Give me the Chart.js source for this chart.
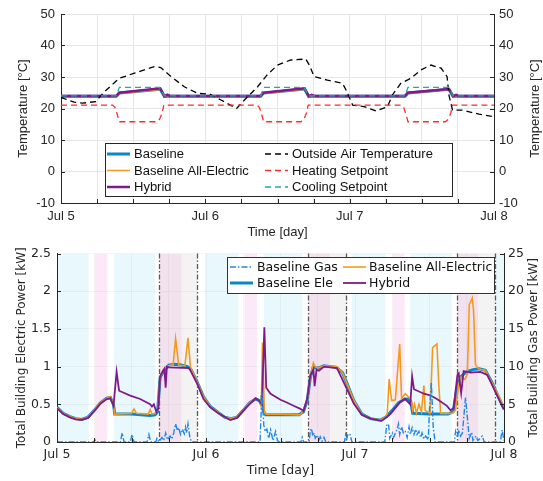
<!DOCTYPE html>
<html>
<head>
<meta charset="utf-8">
<script src="https://cdn.jsdelivr.net/npm/chart.js@4.4.0/dist/chart.umd.min.js"></script>
<style>
  html, body { margin: 0; padding: 0; background: #fff; }
  #wrap { position: relative; width: 543px; height: 481px; }
  canvas { position: absolute; left: 0; }
  #tempChart { top: 0; }
  #powerChart { top: 240px; }
</style>
</head>
<body>
<div id="wrap">
  <canvas id="tempChart" width="543" height="240"></canvas>
  <canvas id="powerChart" width="543" height="241"></canvas>
</div>
<script>
const dayLabels = ['Jul 5', 'Jul 6', 'Jul 7', 'Jul 8'];

// ---- top panel: temperatures, hours since Jul 5 00:00 ----
const zoneHours = [0, 9.2, 9.7, 16.5, 17.2, 17.7, 18.1, 33.2, 33.7, 40.5, 41.2, 41.7, 42.1, 57.2, 57.7, 64.5, 65.2, 65.7, 66.1, 72];
const zoneBaseline = [23.9, 23.9, 24.9, 26.1, 23.8, 23.9, 23.9, 23.9, 24.9, 26.2, 23.8, 23.9, 23.9, 23.9, 24.9, 26.1, 23.8, 23.9, 23.9, 23.9];
const zoneAllElectric = [23.9, 23.9, 24.8, 26.0, 23.7, 24.2, 23.9, 23.9, 24.8, 26.1, 23.7, 24.1, 23.9, 23.9, 24.8, 26.0, 23.7, 24.1, 23.9, 23.9];
const zoneHybrid = [24.0, 24.0, 25.0, 26.4, 23.9, 24.4, 24.0, 24.0, 25.0, 26.4, 23.9, 24.3, 24.0, 24.0, 25.0, 26.2, 23.9, 24.3, 24.0, 24.0];

const oatHours = [0, 2.2, 3.6, 5.8, 7.2, 9.7, 12.2, 15.5, 16.6, 18.0, 20.5, 22.7, 24.7, 26.6, 29.2, 30.5, 32.7, 34.2, 36.0, 38.2, 40.7, 41.3, 42.1, 44.3, 46.8, 47.4, 48.5, 50.4, 52.4, 54.3, 55.1, 56.5, 58.2, 59.8, 61.5, 63.2, 64.2, 64.5, 65.1, 66.7, 69.5, 72];
const oatTemp = [23.5, 22.0, 21.7, 22.2, 25.3, 29.6, 31.2, 33.3, 33.0, 30.6, 26.9, 24.8, 24.6, 22.7, 20.0, 22.7, 26.9, 30.5, 33.8, 35.4, 35.7, 33.8, 30.1, 29.0, 28.0, 25.9, 21.1, 20.6, 19.2, 20.6, 24.3, 28.0, 29.6, 32.2, 33.8, 32.8, 30.1, 24.3, 19.5, 19.5, 18.2, 17.4];

const heatHours = [0, 8.6, 9.0, 9.3, 9.7, 15.9, 16.4, 16.8, 17.1, 32.6, 33.0, 33.3, 33.7, 39.9, 40.4, 40.8, 41.1, 56.6, 57.0, 57.3, 57.7, 63.9, 64.4, 64.8, 65.1, 72];
const heatSetpoint = [21.1, 21.1, 20.3, 18.5, 15.8, 15.8, 16.6, 18.5, 21.1, 21.1, 20.3, 18.5, 15.8, 15.8, 16.6, 18.5, 21.1, 21.1, 20.3, 18.5, 15.8, 15.8, 16.6, 18.5, 21.1, 21.1];

const coolHours = [0, 9.2, 9.7, 16.4, 17.2, 33.2, 33.7, 40.4, 41.2, 57.2, 57.7, 64.4, 65.2, 72];
const coolSetpoint = [24, 24, 26.7, 26.7, 24, 24, 26.7, 26.7, 24, 24, 26.7, 26.7, 24, 24];

// ---- bottom panel: building power ----
const eleHours = [0, 1, 2, 3, 4, 5, 6, 7, 8, 8.6, 9.1, 9.3, 12, 15, 15.8, 16.2, 16.6, 17.2, 17.6, 18, 19, 20, 21, 21.6, 22.6, 23.6,
  24.7, 26, 27, 28, 29, 30, 31, 32, 32.6, 32.9, 33.0, 33.3, 33.6, 36, 39, 39.7, 40.3, 40.8, 41.3, 41.6, 42, 43, 45, 46, 46.7, 47.8,
  49.1, 50.5, 52.1, 53, 54, 55, 56, 56.6, 57, 57.3, 60, 63, 63.8, 64.4, 65, 65.5, 66, 67, 68, 69, 70, 71, 72];
const baselineEle = [0.46, 0.38, 0.34, 0.31, 0.30, 0.33, 0.42, 0.52, 0.58, 0.59, 0.50, 0.37, 0.37, 0.35, 0.36, 0.40, 0.85, 0.95, 0.98, 1.02, 1.03, 1.02, 1.0, 0.96, 0.79, 0.60,
  0.47, 0.39, 0.33, 0.31, 0.33, 0.42, 0.52, 0.57, 0.55, 0.50, 0.62, 0.40, 0.36, 0.36, 0.36, 0.40, 0.55, 0.85, 1.0, 0.99, 0.98, 1.01, 0.99, 0.92, 0.78, 0.55,
  0.37, 0.31, 0.29, 0.33, 0.42, 0.52, 0.57, 0.57, 0.52, 0.38, 0.37, 0.37, 0.40, 0.70, 0.86, 0.90, 0.93, 0.96, 0.97, 0.95, 0.80, 0.62, 0.44];

const aeHours = [0, 1, 2, 3, 4, 5, 6, 7, 8, 8.6, 9.1, 9.3, 12, 12.4, 12.8, 14.7, 15.0, 15.3, 15.8, 16.2, 16.6, 17.2, 17.6, 18.3, 18.7, 19.1, 19.6, 20.6, 21.1, 21.5, 22.6, 23.6,
  24.7, 26, 27, 28, 29, 30, 31, 32, 32.6, 32.9, 33.1, 33.4, 33.7, 36, 39.2, 39.7, 40.3, 40.8, 41.3, 41.6, 42, 43, 45, 46, 46.7, 47.8,
  49.1, 50.5, 52.1, 52.9, 53.2, 53.5, 53.9, 54.5, 55.2, 55.5, 56.1, 56.6, 57.1, 57.3, 57.6, 57.9, 58.3, 58.7, 59.1, 59.3, 60.1, 60.5, 61.2, 61.5, 61.8, 63.6, 64.2, 64.7, 65.1, 65.7, 66.1, 66.4, 66.9, 67.1, 67.4, 67.9, 69, 70.1, 71.4, 72];
const allElectric = [0.46, 0.38, 0.34, 0.31, 0.30, 0.33, 0.42, 0.52, 0.58, 0.60, 0.50, 0.37, 0.38, 0.44, 0.38, 0.37, 0.43, 0.37, 0.38, 0.42, 0.86, 0.96, 1.0, 1.02, 1.02, 1.37, 1.02, 1.01, 1.38, 0.99, 0.79, 0.60,
  0.47, 0.39, 0.33, 0.31, 0.33, 0.42, 0.52, 0.58, 0.55, 0.46, 1.32, 0.40, 0.37, 0.37, 0.36, 0.42, 0.55, 0.85, 1.05, 1.0, 0.98, 1.01, 1.0, 0.92, 0.78, 0.55,
  0.37, 0.31, 0.29, 0.33, 0.38, 0.835, 0.55, 0.56, 1.3, 0.58, 0.64, 0.60, 0.55, 0.42, 0.50, 0.38, 0.50, 0.40, 0.75, 0.42, 0.38, 1.25, 1.3, 0.75, 0.38, 0.38, 0.42, 0.77, 0.86, 0.83, 0.9, 1.82, 1.91, 1.74, 1.03, 0.97, 0.95, 0.78, 0.57, 0.45];

const hybHours = [0, 1, 2, 3, 4, 5, 6, 7, 8, 8.6, 9.1, 9.6, 10.0, 11.8, 13.4, 15.0, 15.3, 15.6, 16.0, 16.3, 16.6, 17.0, 17.3, 17.5, 17.7, 18, 21.3, 22.6, 23.6,
  24.7, 26, 27.9, 29, 30.6, 32, 32.5, 33.0, 33.4, 33.7, 34.4, 36, 37.1, 38.1, 39.2, 39.7, 40.3, 40.8, 41.3, 41.5, 41.8, 42.2, 43, 45.1, 46.7, 47.8,
  49.1, 50.5, 52.3, 53.7, 55.3, 56.1, 56.9, 57.2, 57.5, 59.1, 60.1, 61.2, 62.8, 63.4, 63.9, 64.2, 64.5, 64.7, 65.1, 65.5, 66.6, 68.2, 69.3, 70.3, 71.4, 72];
const hybrid = [0.45, 0.37, 0.33, 0.30, 0.295, 0.32, 0.41, 0.51, 0.57, 0.58, 0.48, 0.93, 0.68, 0.615, 0.57, 0.50, 0.47, 0.50, 0.40, 0.45, 0.87, 0.93, 0.97, 0.72, 1.0, 0.99, 0.98, 0.77, 0.57,
  0.46, 0.38, 0.29, 0.32, 0.47, 0.58, 0.55, 0.50, 1.52, 0.72, 0.64, 0.56, 0.52, 0.48, 0.44, 0.41, 0.57, 0.88, 0.96, 0.74, 0.96, 0.945, 1.0, 0.98, 0.70, 0.51,
  0.36, 0.31, 0.28, 0.37, 0.53, 0.57, 0.50, 0.87, 0.70, 0.64, 0.62, 0.57, 0.48, 0.42, 0.45, 0.68, 0.89, 0.91, 0.65, 0.94, 0.92, 0.93, 0.89, 0.72, 0.53, 0.43];

const gasHours = [0, 5.9, 6.1, 6.3, 10.2, 10.5, 10.8, 11.8, 12.1, 12.4, 14.5, 14.8, 15.1, 15.9, 16.1, 16.4, 16.9, 17.2, 17.5, 17.8, 18.2, 18.5, 18.8, 19.1, 19.4, 19.6, 19.9, 20.2, 20.5, 20.7, 20.9, 21.1, 21.4, 21.7,
  32.7, 32.9, 33.0, 33.3, 33.5, 33.8, 34.1, 34.4, 34.8, 35.2, 35.5, 35.8, 39.3, 39.5, 39.7, 40.6, 40.8, 41.0, 41.2, 41.4, 41.6, 41.9, 42.2, 42.4, 42.7, 43.0, 43.3, 46.3, 46.5, 46.7, 46.9, 47.2, 47.5,
  52.8, 53.1, 53.4, 53.6, 54.0, 54.2, 54.8, 55.0, 55.2, 55.5, 55.8, 56.1, 56.4, 56.7, 56.9, 57.2, 57.5, 57.8, 58.0, 58.3, 58.6, 58.8, 59.1, 59.4, 59.8, 60.0, 60.3, 60.6, 60.9, 64.0, 64.2, 64.5, 64.7, 65.0, 65.3, 65.8, 66.1, 66.4, 66.8, 67.0, 67.5, 67.8, 68.5, 68.8, 71.4, 71.7, 72];
const baselineGas = [0, 0, 0.3, 0, 0, 1.2, 0, 0, 1.0, 0, 0, 1.0, 0, 0, 0.5, 0, 0.6, 0.2, 1.2, 0.3, 0.8, 0.4, 1.2, 2.4, 1.5, 1.9, 1.0, 1.7, 1.1, 2.0, 1.2, 2.4, 0.6, 0,
  0, 4.2, 6.8, 2.3, 1.4, 1.7, 0.5, 1.6, 0.2, 1.4, 0.2, 0, 0, 0.6, 0, 0, 1.5, 1.8, 0.8, 1.2, 0.5, 0.9, 0.3, 0.7, 0.1, 0.6, 0, 0, 1.0, 0.5, 1.1, 1.0, 0,
  0, 2.2, 2.4, 0.5, 1.2, 0.6, 1.7, 2.4, 1.0, 2.0, 1.2, 1.4, 0.6, 2.0, 1.0, 1.9, 1.0, 1.7, 1.0, 1.4, 0.6, 1.2, 0.4, 0.8, 0.3, 4.4, 7.9, 2.0, 0, 0, 1.4, 0.6, 1.6, 0.8, 1.2, 5.9, 3.3, 0.5, 1.3, 0.2, 0.8, 0.2, 0.8, 0, 0, 1.6, 0.2];

// shaded periods and event markers (hours)
const bandStart = [0, 6.1, 9.2, 16.5, 20.1, 23.8, 30.2, 33.3, 40.5, 44.0, 47.5, 54.1, 56.9, 64.5, 67.9, 70.6];
const bandEnd = [5.1, 8.1, 15.8, 20.1, 22.6, 29.2, 32.2, 39.5, 44.0, 46.6, 52.9, 56.0, 63.6, 67.9, 70.6, 72];
const bandKind = ['cool', 'warm', 'cool', 'event', 'rebound', 'cool', 'warm', 'cool', 'event', 'rebound', 'cool', 'warm', 'cool', 'event', 'rebound', 'cool'];
const eventLines = [16.5, 22.6, 40.5, 46.6, 64.5, 70.6];

const bandFill = { cool: '#e9f8fd', warm: '#fce9f7', event: '#f2e2ee', rebound: '#f3f3f3' };

const TOP_FONT = '"Liberation Sans", Arial, sans-serif';
const BOT_FONT = '"DejaVu Sans", sans-serif';
const INK = '#262626';

const C_BLUE = '#0b86cc';
const C_ORANGE = '#f39a1e';
const C_PURPLE = '#80198a';
const C_GAS = '#1f86ee';

function xy(hours, vals) {
  return hours.map((h, i) => ({ x: h, y: vals[i] }));
}

function dayTick(v) {
  return v % 24 === 0 ? dayLabels[v / 24] : '';
}

function drawInwardTicks(chart, len) {
  const { ctx, chartArea: a, scales } = chart;
  ctx.save();
  ctx.strokeStyle = INK;
  ctx.lineWidth = 1;
  ctx.setLineDash([]);
  ctx.beginPath();
  scales.x.ticks.forEach(t => {
    const px = Math.round(scales.x.getPixelForValue(t.value)) + 0.5;
    ctx.moveTo(px, a.bottom);
    ctx.lineTo(px, a.bottom - len);
  });
  scales.y.ticks.forEach(t => {
    const py = Math.round(scales.y.getPixelForValue(t.value)) + 0.5;
    ctx.moveTo(a.left, py);
    ctx.lineTo(a.left + len, py);
    ctx.moveTo(a.right, py);
    ctx.lineTo(a.right - len, py);
  });
  ctx.stroke();
  ctx.restore();
}

function drawRightTitle(chart, text, x, font) {
  const { ctx, chartArea: a } = chart;
  ctx.save();
  ctx.fillStyle = INK;
  ctx.font = font;
  ctx.textAlign = 'center';
  ctx.textBaseline = 'middle';
  ctx.translate(x, (a.top + a.bottom) / 2);
  ctx.rotate(-Math.PI / 2);
  ctx.fillText(text, 0, 0);
  ctx.restore();
}

function drawLegend(chart, spec) {
  const ctx = chart.ctx;
  const [l, t, r, b] = spec.box;
  ctx.save();
  ctx.fillStyle = '#fff';
  ctx.fillRect(l, t, r - l, b - t);
  ctx.strokeStyle = spec.border;
  ctx.lineWidth = 1;
  ctx.setLineDash([]);
  ctx.strokeRect(l + 0.5, t + 0.5, r - l, b - t);
  ctx.font = spec.font;
  ctx.textAlign = 'left';
  ctx.textBaseline = 'middle';
  spec.items.forEach(it => {
    const ds = chart.data.datasets.find(d => d.label === it.label);
    ctx.strokeStyle = ds.borderColor;
    ctx.lineWidth = ds.borderWidth;
    ctx.setLineDash(ds.borderDash || []);
    ctx.beginPath();
    ctx.moveTo(it.x0, it.y);
    ctx.lineTo(it.x1, it.y);
    ctx.stroke();
    ctx.setLineDash([]);
    ctx.fillStyle = '#111';
    ctx.fillText(it.label, it.tx, it.y + 0.5);
  });
  ctx.restore();
}

// ---------------- top chart ----------------
const topLegend = {
  box: [105, 143, 452, 196],
  border: INK,
  font: '13px ' + TOP_FONT,
  items: [
    { label: 'Baseline', x0: 107, x1: 130, tx: 134, y: 154 },
    { label: 'Baseline All-Electric', x0: 107, x1: 130, tx: 134, y: 170.5 },
    { label: 'Hybrid', x0: 107, x1: 130, tx: 134, y: 187 },
    { label: 'Outside Air Temperature', x0: 265, x1: 288, tx: 292, y: 154 },
    { label: 'Heating Setpoint', x0: 265, x1: 288, tx: 292, y: 170.5 },
    { label: 'Cooling Setpoint', x0: 265, x1: 288, tx: 292, y: 187 }
  ]
};

const topDecor = {
  id: 'topDecor',
  afterDraw(chart) {
    drawInwardTicks(chart, 4);
    drawRightTitle(chart, 'Temperature [°C]', 535, '13px ' + TOP_FONT);
    drawLegend(chart, topLegend);
  }
};

const dashed = [6, 4];

new Chart(document.getElementById('tempChart'), {
  type: 'line',
  data: {
    datasets: [
      { label: 'Cooling Setpoint', data: xy(coolHours, coolSetpoint), borderColor: '#21a9a9', borderWidth: 1.3, borderDash: dashed },
      { label: 'Heating Setpoint', data: xy(heatHours, heatSetpoint), borderColor: '#ff2a2a', borderWidth: 1.3, borderDash: dashed },
      { label: 'Outside Air Temperature', data: xy(oatHours, oatTemp), borderColor: '#000000', borderWidth: 1.3, borderDash: dashed },
      { label: 'Hybrid', data: xy(zoneHours, zoneHybrid), borderColor: C_PURPLE, borderWidth: 2.5 },
      { label: 'Baseline All-Electric', data: xy(zoneHours, zoneAllElectric), borderColor: C_ORANGE, borderWidth: 1.5 },
      { label: 'Baseline', data: xy(zoneHours, zoneBaseline), borderColor: C_BLUE, borderWidth: 3 }
    ]
  },
  options: {
    responsive: false,
    animation: false,
    devicePixelRatio: 1,
    events: [],
    layout: { padding: { top: 14, left: 0, right: 0, bottom: 0 } },
    elements: { point: { radius: 0 }, line: { tension: 0 } },
    plugins: { legend: { display: false }, tooltip: { enabled: false } },
    scales: {
      x: {
        type: 'linear', min: 0, max: 72,
        afterFit: s => { s.height = 37; },
        grid: { color: '#e6e6e6', drawTicks: false },
        border: { color: INK },
        ticks: { stepSize: 6, autoSkip: false, maxRotation: 0, padding: 6, color: INK, font: { family: TOP_FONT, size: 13 }, callback: dayTick },
        title: { display: true, text: 'Time [day]', color: INK, font: { family: TOP_FONT, size: 13 }, padding: { top: 0, bottom: 0 } }
      },
      y: {
        min: -10, max: 50,
        afterFit: s => { s.width = 61; },
        grid: { color: '#e6e6e6', drawTicks: false },
        border: { color: INK },
        ticks: { stepSize: 10, padding: 6, color: INK, font: { family: TOP_FONT, size: 13 } },
        title: { display: true, text: 'Temperature [°C]', color: INK, font: { family: TOP_FONT, size: 13 }, padding: { top: 16, bottom: 0 } }
      },
      y2: {
        position: 'right', min: -10, max: 50,
        afterFit: s => { s.width = 49; },
        grid: { display: false, drawTicks: false },
        border: { color: INK },
        ticks: { stepSize: 10, padding: 5, color: INK, font: { family: TOP_FONT, size: 13 } }
      }
    }
  },
  plugins: [topDecor]
});

// ---------------- bottom chart (canvas starts 240px down the page) ----------------
const botLegend = {
  box: [227, 17, 494, 53],
  border: '#333333',
  font: '12.5px ' + BOT_FONT,
  items: [
    { label: 'Baseline Gas', x0: 230, x1: 253, tx: 257, y: 27 },
    { label: 'Baseline Ele', x0: 230, x1: 253, tx: 257, y: 43 },
    { label: 'Baseline All-Electric', x0: 343, x1: 366, tx: 369, y: 27 },
    { label: 'Hybrid', x0: 343, x1: 366, tx: 369, y: 43 }
  ]
};

const botDecor = {
  id: 'botDecor',
  beforeDraw(chart) {
    const { ctx, chartArea: a, scales: { x } } = chart;
    ctx.save();
    ctx.beginPath();
    ctx.rect(a.left, a.top, a.right - a.left, a.bottom - a.top);
    ctx.clip();
    bandStart.forEach((s, i) => {
      const x0 = x.getPixelForValue(s);
      const x1 = x.getPixelForValue(bandEnd[i]);
      ctx.fillStyle = bandFill[bandKind[i]];
      ctx.fillRect(x0, a.top, x1 - x0, a.bottom - a.top);
    });
    ctx.restore();
  },
  beforeDatasetsDraw(chart) {
    const { ctx, chartArea: a, scales: { x } } = chart;
    ctx.save();
    ctx.strokeStyle = '#5a5a5a';
    ctx.lineWidth = 1.3;
    ctx.setLineDash([5, 2, 1.5, 2]);
    eventLines.forEach(h => {
      const px = Math.round(x.getPixelForValue(h)) + 0.5;
      ctx.beginPath();
      ctx.moveTo(px, a.top);
      ctx.lineTo(px, a.bottom);
      ctx.stroke();
    });
    ctx.restore();
  },
  afterDraw(chart) {
    drawInwardTicks(chart, 4);
    drawRightTitle(chart, 'Total Building Gas Power [kW]', 534, '12px ' + BOT_FONT);
    drawLegend(chart, botLegend);
  }
};

new Chart(document.getElementById('powerChart'), {
  type: 'line',
  data: {
    datasets: [
      { label: 'Baseline Gas', data: xy(gasHours, baselineGas), yAxisID: 'y2', borderColor: C_GAS, borderWidth: 1.4, borderDash: [6, 2, 1.5, 2] },
      { label: 'Hybrid', data: xy(hybHours, hybrid), borderColor: C_PURPLE, borderWidth: 1.8 },
      { label: 'Baseline All-Electric', data: xy(aeHours, allElectric), borderColor: C_ORANGE, borderWidth: 1.6 },
      { label: 'Baseline Ele', data: xy(eleHours, baselineEle), borderColor: C_BLUE, borderWidth: 3 }
    ]
  },
  options: {
    responsive: false,
    animation: false,
    devicePixelRatio: 1,
    events: [],
    layout: { padding: { top: 12, left: 0, right: 0, bottom: 0 } },
    elements: { point: { radius: 0 }, line: { tension: 0 } },
    plugins: { legend: { display: false }, tooltip: { enabled: false } },
    scales: {
      x: {
        type: 'linear', min: 0, max: 72,
        afterFit: s => { s.height = 39; },
        grid: { color: 'rgba(0,0,0,0.04)', drawTicks: false },
        border: { color: INK },
        ticks: { stepSize: 6, autoSkip: false, maxRotation: 0, padding: 5, color: INK, font: { family: BOT_FONT, size: 12.5 }, callback: dayTick },
        title: { display: true, text: 'Time [day]', color: INK, font: { family: BOT_FONT, size: 12.5 }, padding: { top: 0, bottom: 3 } }
      },
      y: {
        min: 0, max: 2.5,
        afterFit: s => { s.width = 57; },
        grid: { color: 'rgba(0,0,0,0.04)', drawTicks: false },
        border: { color: INK },
        ticks: { stepSize: 0.5, padding: 6, color: INK, font: { family: BOT_FONT, size: 12.5 }, callback: v => String(Number(v.toFixed(1))) },
        title: { display: true, text: 'Total Building Electric Power [kW]', color: INK, font: { family: BOT_FONT, size: 12 }, padding: { top: 15, bottom: 0 } }
      },
      y2: {
        position: 'right', min: 0, max: 25,
        afterFit: s => { s.width = 39; },
        grid: { display: false, drawTicks: false },
        border: { color: INK },
        ticks: { stepSize: 5, padding: 4, color: INK, font: { family: BOT_FONT, size: 12.5 } }
      }
    }
  },
  plugins: [botDecor]
});
</script>
</body>
</html>
